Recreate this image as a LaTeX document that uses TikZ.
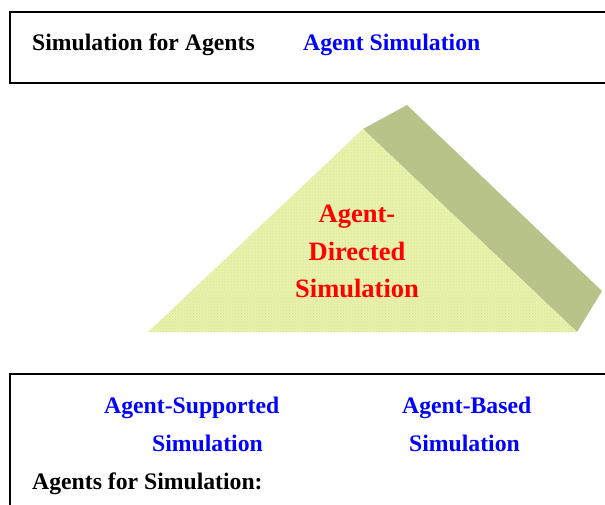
\documentclass[tikz,border=0pt]{standalone}
\usepackage{fontspec}
\setmainfont{Liberation Serif}
\usetikzlibrary{patterns}
\definecolor{faccia}{HTML}{E8F2AA}
\definecolor{fianco}{HTML}{B8C38A}
\definecolor{puntini}{HTML}{CAD48F}
\definecolor{puntinibassi}{HTML}{D6DF9C}
\begin{document}
\begin{tikzpicture}[x=1pt, y=-1pt,
		testo/.style={font=\fontsize{23.7}{28}\selectfont\bfseries, inner sep=0pt, anchor=base west},
		titolo/.style={font=\fontsize{26.5}{30}\selectfont\bfseries, inner sep=0pt, anchor=base, red}]
	\useasboundingbox (0,0) rectangle (605,504);

	% Riquadro in alto
	\draw[line width=1.6pt] (607,12) -- (10,12) -- (10,83) -- (607,83);
	\node[testo] (simag) at (32,50) {Simulation for Agents};
	\node[testo, blue] (agsim) at (303,50) {Agent Simulation};

	% Piramide: fianco e faccia
	\coordinate (apice) at (363,129);
	\coordinate (retro) at (407,105);
	\coordinate (destra) at (602,291);
	\coordinate (basedx) at (577,332);
	\coordinate (basesx) at (148,332);
	\fill[fianco] (apice) -- (retro) -- (destra) -- (basedx) -- cycle;
	\fill[faccia] (basesx) -- (apice) -- (basedx) -- cycle;
	\begin{scope}
		\clip (basesx) -- (apice) -- (basedx) -- cycle;
		\fill[pattern=dots, pattern color=puntini] (140,120) rectangle (590,290);
		\fill[pattern=crosshatch dots, pattern color=puntinibassi] (140,290) rectangle (590,335);
	\end{scope}

	% Testo centrale
	\node[titolo] (agente) at (357,222) {Agent-};
	\node[titolo] (diretta) at (357,260) {Directed};
	\node[titolo] (simul) at (357,297) {Simulation};

	% Riquadro in basso
	\draw[line width=1.6pt] (607,374) -- (10,374) -- (10,506);
	\node[testo, blue] (agsup) at (104,413) {Agent-Supported};
	\node[testo, blue] (simsup) at (152,451) {Simulation};
	\node[testo, blue] (agbas) at (402,413) {Agent-Based};
	\node[testo, blue] (simbas) at (409,451) {Simulation};
	\node[testo] (agfor) at (32,489) {Agents for Simulation:};
\end{tikzpicture}
\end{document}
